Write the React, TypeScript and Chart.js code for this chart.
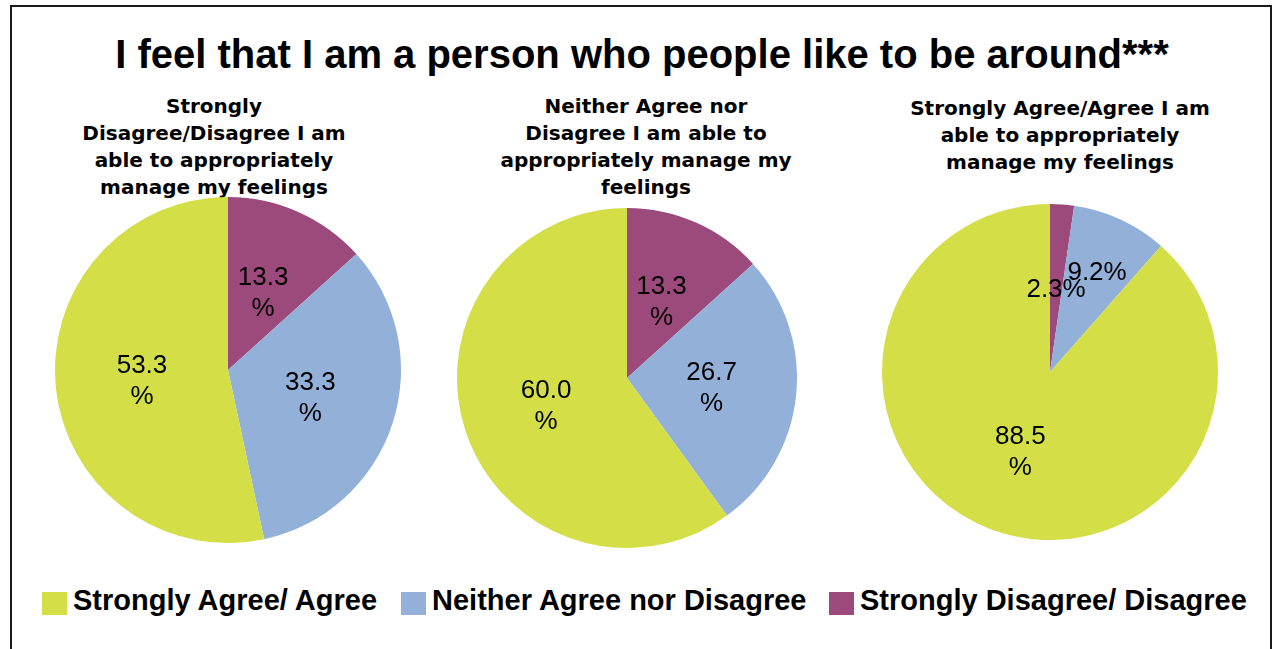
import React, { useEffect, useRef } from "react";
import { Chart, registerables } from "chart.js";

Chart.register(...registerables);

// ---- data ----
const mainTitle = "I feel that I am a person who people like to be around***";
const categories = ["Strongly Agree/ Agree", "Neither Agree nor Disagree", "Strongly Disagree/ Disagree"];
const colors = ["#D4DF48", "#93B0D8", "#9C4A7C"];

const pie1Title = ["Strongly", "Disagree/Disagree I am", "able to appropriately", "manage my feelings"];
const pie1Values = [53.3, 33.3, 13.3];

const pie2Title = ["Neither Agree nor", "Disagree I am able to", "appropriately manage my", "feelings"];
const pie2Values = [60.0, 26.7, 13.3];

const pie3Title = ["Strongly Agree/Agree I am", "able to appropriately", "manage my feelings"];
const pie3Values = [88.5, 9.2, 2.3];

const LABEL_FONT = "26px 'Liberation Sans', Arial, sans-serif";

const labelPlugin = {
  id: "sliceLabels",
  afterDatasetsDraw(chart: any) {
    const ctx = chart.ctx;
    const meta = chart.getDatasetMeta(0);
    const values = chart.data.datasets[0].data as number[];
    ctx.save();
    ctx.font = LABEL_FONT;
    ctx.fillStyle = "#000";
    ctx.textAlign = "center";
    ctx.textBaseline = "middle";
    const placed: { x0: number; x1: number; y0: number; y1: number }[] = [];
    const lineH = 31;
    const capH = 17;
    meta.data.forEach((arc: any, i: number) => {
      const p = arc.getProps(["x", "y", "startAngle", "endAngle", "outerRadius"], true);
      const mid = (p.startAngle + p.endAngle) / 2;
      const v = values[i];
      const lines = v >= 10 ? [v.toFixed(1), "%"] : [v.toFixed(1) + "%"];
      const w = Math.max(...lines.map((l) => ctx.measureText(l).width));
      const h = capH + (lines.length - 1) * lineH;
      let d = p.outerRadius * 0.5;
      let cx = 0, cy = 0, box: any = null;
      for (let k = 0; k < 200; k++) {
        cx = p.x + Math.cos(mid) * d;
        cy = p.y + Math.sin(mid) * d;
        box = { x0: cx - w / 2, x1: cx + w / 2, y0: cy - h / 2, y1: cy + h / 2 };
        const hit = placed.some((b) => box.x0 < b.x1 && box.x1 > b.x0 && box.y0 < b.y1 && box.y1 > b.y0);
        if (!hit) break;
        d += 1;
      }
      placed.push(box);
      lines.forEach((l, j) => {
        ctx.fillText(l, cx, cy - ((lines.length - 1) * lineH) / 2 + j * lineH + 2);
      });
    });
    ctx.restore();
  },
};

function Pie({ values, left, top, size }: { values: number[]; left: number; top: number; size: number }) {
  const ref = useRef<HTMLCanvasElement>(null);
  useEffect(() => {
    if (!ref.current) return;
    // drawn clockwise from the top: Disagree, Neither, Agree
    const order = [2, 1, 0];
    const chart = new Chart(ref.current, {
      type: "pie",
      data: {
        labels: order.map((i) => categories[i]),
        datasets: [
          {
            data: order.map((i) => values[i]),
            backgroundColor: order.map((i) => colors[i]),
            borderWidth: 0,
          },
        ],
      },
      options: {
        responsive: false,
        maintainAspectRatio: false,
        animation: false,
        layout: { padding: 0 },
        plugins: { legend: { display: false }, tooltip: { enabled: false }, title: { display: false } },
      },
      plugins: [labelPlugin],
    });
    return () => chart.destroy();
  }, [values]);
  return (
    <canvas
      ref={ref}
      width={size}
      height={size}
      style={{ position: "absolute", left, top, width: size, height: size }}
    />
  );
}

function SubTitle({ lines, cx, top }: { lines: string[]; cx: number; top: number }) {
  return (
    <div
      style={{
        position: "absolute",
        left: cx - 200,
        top,
        width: 400,
        textAlign: "center",
        font: "bold 20px 'DejaVu Sans', sans-serif",
        lineHeight: "27px",
        color: "#000",
        whiteSpace: "nowrap",
      }}
    >
      {lines.map((l, i) => (
        <div key={i}>{l}</div>
      ))}
    </div>
  );
}

export default function App() {
  const legendLeft = [42, 401, 829];
  return (
    <div
      style={{
        position: "absolute",
        left: 0,
        top: 0,
        width: 1275,
        height: 649,
        overflow: "hidden",
        background: "#fff",
      }}
    >
      <div
        style={{
          position: "absolute",
          left: 10,
          top: 5,
          width: 1258,
          height: 700,
          border: "2px solid #1a1a1a",
        }}
      />
      <div
        style={{
          position: "absolute",
          left: 0,
          width: 1284,
          top: 34,
          textAlign: "center",
          font: "bold 40px 'Liberation Sans', Arial, sans-serif",
          lineHeight: "40px",
          whiteSpace: "nowrap",
          color: "#000",
        }}
      >
        {mainTitle}
      </div>
      <SubTitle lines={pie1Title} cx={214} top={93} />
      <SubTitle lines={pie2Title} cx={646} top={93} />
      <SubTitle lines={pie3Title} cx={1060} top={95} />
      <Pie values={pie1Values} left={55} top={197} size={346} />
      <Pie values={pie2Values} left={457} top={208} size={340} />
      <Pie values={pie3Values} left={882} top={204} size={336} />
      {categories.map((c, i) => (
        <div
          key={c}
          style={{
            position: "absolute",
            left: legendLeft[i],
            top: 586,
            display: "flex",
            alignItems: "flex-start",
            whiteSpace: "nowrap",
          }}
        >
          <div style={{ width: 25, height: 23, background: colors[i], marginTop: 6, marginRight: 6 }} />
          <div
            style={{
              font: "bold 29px 'Liberation Sans', Arial, sans-serif",
              lineHeight: "29px",
              color: "#000",
            }}
          >
            {c}
          </div>
        </div>
      ))}
    </div>
  );
}
